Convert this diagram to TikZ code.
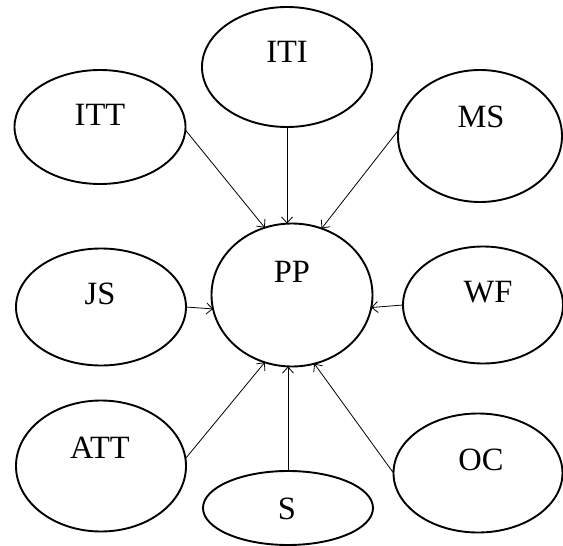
\documentclass[tikz,border=0pt]{standalone}
\usepackage{fontspec}
\setmainfont{Liberation Serif}
\usetikzlibrary{shapes.geometric,arrows.meta}
\begin{document}
\begin{tikzpicture}[x=1pt,y=-1pt,
  oval/.style={ellipse,draw,line width=1.9pt,inner sep=0pt,outer sep=0pt},
  lbl/.style={anchor=base,inner sep=0pt,font=\fontsize{32.5}{38}\selectfont},
  conn/.style={line width=0.8pt,-{Straight Barb[length=6pt,width=11pt]}}]
\useasboundingbox (0,0) rectangle (563,546);
\node[oval,minimum width=170pt,minimum height=120pt] (ITI) at (287,67) {};
\node[oval,minimum width=171pt,minimum height=114pt] (ITT) at (100,127) {};
\node[oval,minimum width=164pt,minimum height=132pt] (MS) at (480,136) {};
\node[oval,minimum width=161pt,minimum height=143pt] (PP) at (292,295) {};
\node[oval,minimum width=170pt,minimum height=117pt] (JS) at (101,307) {};
\node[oval,minimum width=160pt,minimum height=117pt] (WF) at (483,305) {};
\node[oval,minimum width=170pt,minimum height=131pt] (ATT) at (101,466) {};
\node[oval,minimum width=170pt,minimum height=74pt] (S) at (288,508) {};
\node[oval,minimum width=169pt,minimum height=119pt] (OC) at (478,473) {};
\node[lbl] (ITIt) at (287,63) {ITI};
\node[lbl] (ITTt) at (100,125) {ITT};
\node[lbl] (MSt) at (481,127) {MS};
\node[lbl] (PPt) at (292,282) {PP};
\node[lbl] (JSt) at (100,304) {JS};
\node[lbl] (WFt) at (488,302) {WF};
\node[lbl] (ATTt) at (100,458) {ATT};
\node[lbl] (St) at (287,519) {S};
\node[lbl] (OCt) at (481,470) {OC};
\draw[conn] (ITT.-2) -- (PP.112);
\draw[conn] (ITI.south) -- (ITI.south |- PP.north);
\draw[conn] (MS.176) -- (PP.66);
\draw[conn] (JS.east) -- (PP.190);
\draw[conn] (WF.west) -- (PP.-9);
\draw[conn] (ATT.5) -- (PP.248);
\draw[conn] (S.north) -- (S.north |- PP.south);
\draw[conn] (OC.west) -- (PP.-72);
\end{tikzpicture}
\end{document}
